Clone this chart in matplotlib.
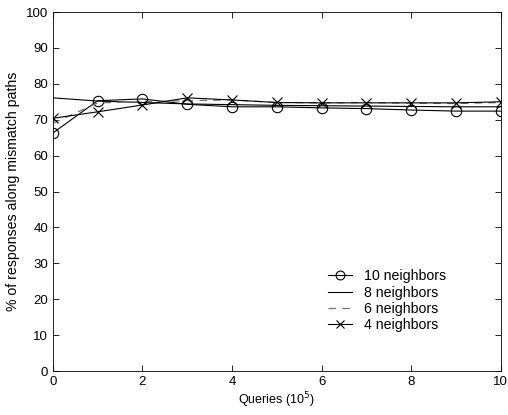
import numpy as np
import matplotlib
matplotlib.use("Agg")
import matplotlib.pyplot as plt

plt.rcParams['font.family'] = ['Liberation Sans', 'DejaVu Sans']

# data
queries = [0, 1, 2, 3, 4, 5, 6, 7, 8, 9, 10]
n10 = [66.3, 75.3, 75.8, 74.3, 73.6, 73.6, 73.3, 73.1, 72.7, 72.4, 72.4]
n8 = [76.1, 75.2, 74.8, 74.4, 74.2, 74.0, 73.9, 73.8, 73.7, 73.6, 73.6]
n6 = [69.0, 74.7, 75.0, 75.3, 75.5, 74.8, 74.7, 74.8, 74.6, 74.5, 74.8]
n4 = [70.4, 72.2, 74.1, 76.1, 75.5, 74.8, 74.7, 74.7, 74.7, 74.7, 75.0]

fig = plt.figure(figsize=(5.08, 4.15), dpi=100)
ax = fig.add_axes([0.104, 0.106, 0.882, 0.865])

ax.plot(queries, n10, color='black', lw=0.8, marker='o', ms=7.5, mfc='none',
        mec='black', mew=0.8, label='10 neighbors')
ax.plot(queries, n8, color='black', lw=0.8, label='8 neighbors')
ax.plot(queries, n6, color='0.45', lw=0.9, ls=(0, (6, 5)), label='6 neighbors')
ax.plot(queries, n4, color='black', lw=0.8, marker='x', ms=6.5, mew=0.8,
        label='4 neighbors')

ax.set_xlim(0, 10)
ax.set_ylim(0, 100)
ax.set_xticks(range(0, 11, 2))
ax.set_yticks(range(0, 101, 10))
ax.tick_params(direction='in', top=True, right=True, labelsize=9.5, length=4,
               width=0.6)
for s in ax.spines.values():
    s.set_linewidth(0.6)

ax.set_xlabel('Queries (10$^5$)', fontsize=9, labelpad=2)
ax.set_ylabel('% of responses along mismatch paths', fontsize=10.2, labelpad=4)

ax.legend(loc='upper left', bbox_to_anchor=(0.645, 0.351),
          bbox_transform=fig.transFigure, frameon=False, fontsize=10.2,
          handlelength=1.7, handletextpad=0.9, labelspacing=0.16,
          borderpad=0, borderaxespad=0, markerscale=0.85)

fig.savefig('out.png', dpi=100)
